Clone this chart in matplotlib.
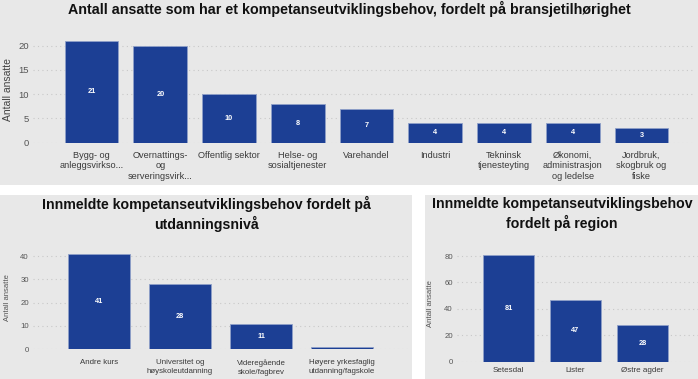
import matplotlib
matplotlib.use('Agg')
import matplotlib.pyplot as plt
from matplotlib.patches import Rectangle

plt.rcParams['font.family'] = ['Liberation Sans', 'DejaVu Sans']

# data
bransje = ['Bygg- og\nanleggsvirkso...', 'Overnattings-\nog\nserveringsvirk...', 'Offentlig sektor',
           'Helse- og\nsosialtjenester', 'Varehandel', 'Industri', 'Tekninsk\ntjenesteyting',
           'Økonomi,\nadministrasjon\nog ledelse', 'Jordbruk,\nskogbruk og\nfiske']
bransje_n = [21, 20, 10, 8, 7, 4, 4, 4, 3]

utd = ['Andre kurs', 'Universitet og\nhøyskoleutdanning', 'Videregående\nskole/fagbrev',
       'Høyere yrkesfaglig\nutdanning/fagskole']
utd_n = [41, 28, 11, 1]

region = ['Setesdal', 'Lister', 'Østre agder']
region_n = [81, 47, 28]

W, H = 698, 379
BAR = '#1c3f94'
BG = '#e8e8e8'

fig = plt.figure(figsize=(W / 100, H / 100), dpi=100, facecolor='white')

# panel backgrounds (pixel boxes)
for x0, y0, x1, y1 in [(0, 0, 698, 185), (0, 195, 412, 379), (425, 195, 698, 379)]:
    fig.patches.append(Rectangle((x0 / W, 1 - y1 / H), (x1 - x0) / W, (y1 - y0) / H,
                                 transform=fig.transFigure, facecolor=BG, edgecolor='none', zorder=-1))


def panel(left, right, zero_px, top_px, ymax, xlim, cats, vals, ticks, width,
          xfs, yfs, lfs, vfs, pad_x, lab_x, ls=1.2, lab_col='#555555', min_lab=2):
    ax = fig.add_axes([left / W, 1 - zero_px / H, (right - left) / W, (zero_px - top_px) / H])
    ax.set_facecolor('none')
    x = range(len(cats))
    ax.bar(x, vals, width=width, color=BAR, edgecolor='#8fa0c8', linewidth=0.6, zorder=3)
    for i, v in enumerate(vals):
        if v >= min_lab:
            ax.text(i, v / 2, str(v), ha='center', va='center', color='white',
                    fontsize=vfs, fontweight='bold', zorder=4)
    ax.set_ylim(0, ymax)
    ax.set_xlim(*xlim)
    ax.set_yticks(ticks)
    ax.set_xticks(list(x))
    ax.set_xticklabels(cats, fontsize=xfs, color='#3a3a3a', linespacing=ls, va='top')
    ax.tick_params(axis='y', labelsize=yfs, labelcolor='#555555', length=0, pad=3)
    ax.tick_params(axis='x', length=0, pad=pad_x)
    for s in ax.spines.values():
        s.set_visible(False)
    ax.yaxis.grid(True, color='#c8c8c8', linestyle=(0, (1, 3)), linewidth=0.8, zorder=0)
    ax.set_axisbelow(True)
    fig.text(lab_x / W, 1 - (zero_px + top_px) / 2 / H, 'Antall ansatte', rotation=90,
             ha='center', va='center', fontsize=lfs, color=lab_col)
    return ax


# top panel
panel(33, 695, 142.7, 36, 22, (-0.851, 8.778), bransje, bransje_n, [0, 5, 10, 15, 20], 0.78,
      6.6, 6.8, 7.5, 5.3, 6, 8, lab_col='#444444')
fig.text(0.5, 1 - 8.5 / H, 'Antall ansatte som har et kompetanseutviklingsbehov, fordelt på bransjetilhørighet',
         ha='center', va='center', fontsize=10.3, fontweight='bold', color='#111111')

# bottom left
panel(33, 408, 349, 247, 44, (-0.815, 3.815), utd, utd_n, [0, 10, 20, 30, 40], 0.765,
      5.7, 5.6, 5.5, 5.3, 7.5, 8, ls=1.35)
fig.text(206 / W, 1 - 214 / H, 'Innmeldte kompetanseutviklingsbehov fordelt på\nutdanningsnivå',
         ha='center', va='center', fontsize=10.2, fontweight='bold', color='#111111', linespacing=1.25)

# bottom right
panel(457, 698, 361.7, 245.5, 88, (-0.769, 2.83), region, region_n, [0, 20, 40, 60, 80], 0.76,
      5.8, 5.6, 5.5, 5.3, 3.5, 430)
fig.text(562 / W, 1 - 214 / H, 'Innmeldte kompetanseutviklingsbehov\nfordelt på region',
         ha='center', va='center', fontsize=10.2, fontweight='bold', color='#111111', linespacing=1.25)

fig.savefig('out.png', dpi=100, facecolor='white')
